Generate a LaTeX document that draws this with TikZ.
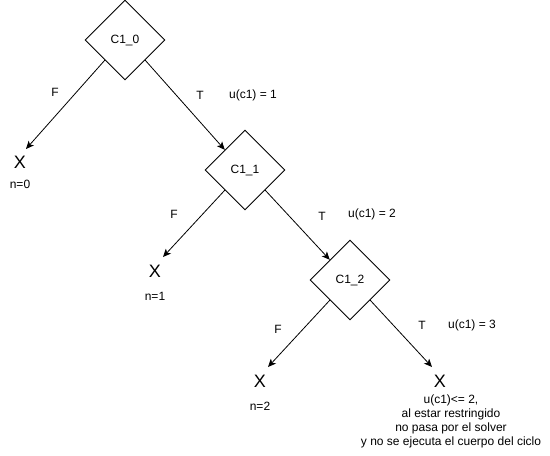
\documentclass[tikz,border=0pt]{standalone}
\usepackage{fontspec}
\setmainfont{Liberation Sans}
\usetikzlibrary{shapes.geometric,arrows.meta,calc}
\begin{document}
\begin{tikzpicture}[x=1pt,y=-1pt,
  every node/.style={font=\fontsize{12}{14}\selectfont, inner sep=0pt},
  cond/.style={diamond, draw, line width=0.9pt, minimum width=80pt, minimum height=80pt, font=\fontsize{12}{14}\selectfont},
  leaf/.style={font=\fontsize{18}{18}\selectfont},
  lbl/.style={font=\fontsize{12}{14}\selectfont},
  edge/.style={draw, line width=0.8pt, -{Stealth[length=8pt,width=7pt,inset=2pt]}}]
\useasboundingbox (0,0) rectangle (550,456);

% decision nodes
\node[cond] (c0) at (125,40) {C1\_0};
\node[cond] (c1) at (245,170) {C1\_1};
\node[cond] (c2) at (350,280) {C1\_2};

% terminal marks
\node[leaf] (x0) at (20,162) {X};
\node[leaf] (x1) at (155,271) {X};
\node[leaf] (x2) at (260,381) {X};
\node[leaf] (x3) at (440,381) {X};

% arrow tips above the terminal marks
\coordinate (t0) at (26,149);
\coordinate (t1) at (163,257);
\coordinate (t2) at (268,367);
\coordinate (t3) at (432,367);

% connectors
\draw[edge] ($(c0.west)!0.5!(c0.south)$) -- (t0);
\draw[edge] ($(c0.east)!0.5!(c0.south)$) -- ($(c1.west)!0.5!(c1.north)$);
\draw[edge] ($(c1.west)!0.5!(c1.south)$) -- (t1);
\draw[edge] ($(c1.east)!0.5!(c1.south)$) -- ($(c2.west)!0.5!(c2.north)$);
\draw[edge] ($(c2.west)!0.5!(c2.south)$) -- (t2);
\draw[edge] ($(c2.east)!0.5!(c2.south)$) -- (t3);

% branch labels
\node[lbl] (f0) at (55,92) {F};
\node[lbl] (tt0) at (200,95) {T};
\node[lbl] (u1) at (253,95) {u(c1) = 1};
\node[lbl] (f1) at (174,214) {F};
\node[lbl] (tt1) at (322,216) {T};
\node[lbl] (u2) at (372,214) {u(c1) = 2};
\node[lbl] (f2) at (278,329) {F};
\node[lbl] (tt2) at (422,325) {T};
\node[lbl] (u3) at (472,325) {u(c1) = 3};

% outcome notes
\node[lbl] (n0) at (20,184) {n=0};
\node[lbl] (n1) at (155,296) {n=1};
\node[lbl] (n2) at (260,406) {n=2};
\node[lbl, align=center] (note) at (451,421)
  {u(c1)<= 2,\\al estar restringido\\no pasa por el solver\\y no se ejecuta el cuerpo del ciclo};
\end{tikzpicture}
\end{document}
